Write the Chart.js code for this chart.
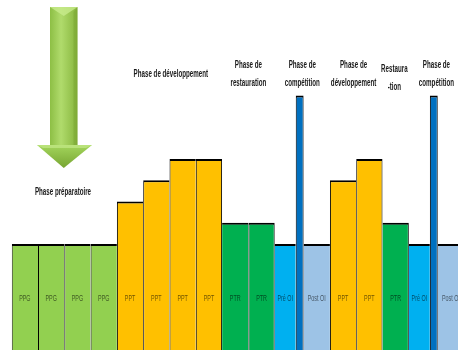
<!DOCTYPE html>
<html lang="fr">
<head>
<meta charset="utf-8">
<title>Périodisation de la saison</title>
<script src="https://cdn.jsdelivr.net/npm/chart.js@4.4.1/dist/chart.umd.min.js"></script>
<style>
  html, body { margin: 0; padding: 0; background: #ffffff; }
  #wrap { position: relative; width: 458px; height: 350px; }
</style>
</head>
<body>
<div id="wrap"><canvas id="plan"></canvas></div>
<script>
// Blocs d'entraînement, dans l'ordre de la saison
const blocks = ['PPG', 'PPG', 'PPG', 'PPG', 'PPT', 'PPT', 'PPT', 'PPT', 'PTR', 'PTR',
                'Pré OI', 'OI', 'Post OI', 'PPT', 'PPT', 'PTR', 'Pré OI', 'OI', 'Post OI'];
// Durée relative de chaque bloc
const durations = [1, 1, 1, 1, 1, 1, 1, 1, 1, 1, 0.8, 0.3, 1, 1, 1, 1, 0.8, 0.3, 1];
// Niveau de charge de chaque bloc
const loads = [5, 5, 5, 5, 7, 8, 9, 9, 6, 6, 5, 12, 5, 8, 9, 6, 5, 12, 5];

// Titres des phases : [lignes, centre sur l'axe du temps]
const phaseTitles = [
  { lines: ['Phase préparatoire'], at: 1.95, y: 192 },
  { lines: ['Phase de développement'], at: 6.05, y: 74 },
  { lines: ['Phase de', 'restauration'], at: 9.0, y: 65 },
  { lines: ['Phase de', 'compétition'], at: 11.05, y: 65 },
  { lines: ['Phase de', 'développement'], at: 13.0, y: 65 },
  { lines: ['Restaura', '-tion'], at: 14.55, y: 69 },
  { lines: ['Phase de', 'compétition'], at: 16.15, y: 65 }
];

const palette = {
  'PPG': '#92D050',
  'PPT': '#FFC000',
  'PTR': '#00B050',
  'Pré OI': '#00B0F0',
  'OI': '#0070C0',
  'Post OI': '#9DC3E6'
};

// Début de chaque bloc sur l'axe du temps
const starts = [];
durations.reduce((acc, d) => { starts.push(acc); return acc + d; }, 0);

const points = blocks.map((b, i) => ({ x: starts[i] + durations[i] / 2, y: loads[i] }));

// Bordures : le bloc le plus haut trace l'arête commune
function edges(ctx) {
  const i = ctx.dataIndex;
  const prev = i > 0 ? loads[i - 1] : -1;
  const next = i < loads.length - 1 ? loads[i + 1] : -1;
  return {
    top: 2,
    left: prev <= loads[i] ? 1 : 0,
    right: next < loads[i] ? 1 : 0,
    bottom: 0
  };
}

// Largeur de chaque barre = sa durée, convertie par l'échelle x
const widthFromDuration = {
  id: 'widthFromDuration',
  afterDatasetsUpdate(chart) {
    const xs = chart.scales.x;
    chart.getDatasetMeta(0).data.forEach((el, i) => {
      const a = xs.getPixelForValue(starts[i]);
      const b = xs.getPixelForValue(starts[i] + durations[i]);
      el.x = (a + b) / 2;
      el.width = b - a;
    });
  }
};

// Texte resserré horizontalement (police condensée)
function squashedText(ctx, text, x, y, sx) {
  ctx.save();
  ctx.translate(x, y);
  ctx.scale(sx, 1);
  ctx.fillText(text, 0, 0);
  ctx.restore();
}

// Libellés dans les barres
const blockLabels = {
  id: 'blockLabels',
  afterDatasetsDraw(chart) {
    const { ctx, chartArea } = chart;
    const ys = chart.scales.y;
    ctx.save();
    ctx.font = '9px "Liberation Sans", Arial, sans-serif';
    ctx.textAlign = 'center';
    ctx.textBaseline = 'middle';
    ctx.fillStyle = 'rgba(0,0,0,0.58)';
    ctx.beginPath();
    ctx.rect(chartArea.left, chartArea.top, chartArea.right - chartArea.left, chartArea.bottom - chartArea.top);
    ctx.clip();
    chart.getDatasetMeta(0).data.forEach((el, i) => {
      if (blocks[i] === 'OI') return;
      squashedText(ctx, blocks[i], el.x, ys.getPixelForValue(2.45), 0.6);
    });
    ctx.restore();
  }
};

// Titres des phases et flèche descendante
const annotations = {
  id: 'annotations',
  afterDraw(chart) {
    const { ctx } = chart;
    const xs = chart.scales.x;
    ctx.save();
    ctx.font = 'bold 10px "Liberation Sans", Arial, sans-serif';
    ctx.textAlign = 'center';
    ctx.textBaseline = 'middle';
    ctx.fillStyle = '#1a1a1a';
    phaseTitles.forEach(t => {
      const cx = xs.getPixelForValue(t.at);
      t.lines.forEach((ln, k) => squashedText(ctx, ln, cx, t.y + k * 18, 0.62));
    });

    // Flèche
    const sl = 50, sr = 77.5, st = 7, hb = 145, hl = 37, hr = 92, tipY = 168;
    const cx = (sl + sr) / 2;
    const g = ctx.createLinearGradient(sl, 0, sr, 0);
    g.addColorStop(0, '#8dbf45');
    g.addColorStop(0.4, '#b0db6c');
    g.addColorStop(1, '#86b53c');
    ctx.fillStyle = g;
    ctx.beginPath();
    ctx.rect(sl, st, sr - sl, hb - st + 1);
    ctx.fill();
    // biseau du haut
    ctx.fillStyle = 'rgba(200,235,140,0.8)';
    ctx.beginPath();
    ctx.moveTo(sl, st);
    ctx.lineTo(sr, st);
    ctx.lineTo(cx, st + 9);
    ctx.closePath();
    ctx.fill();
    ctx.fillStyle = 'rgba(110,150,40,0.3)';
    ctx.beginPath();
    ctx.moveTo(sr, st);
    ctx.lineTo(sr - 4, st + 5);
    ctx.lineTo(sr - 4, hb);
    ctx.lineTo(sr, hb);
    ctx.closePath();
    ctx.fill();
    // pointe
    const hg = ctx.createLinearGradient(0, hb, 0, tipY);
    hg.addColorStop(0, '#a3d55c');
    hg.addColorStop(1, '#77a532');
    ctx.fillStyle = hg;
    ctx.beginPath();
    ctx.moveTo(hl, hb);
    ctx.lineTo(hr, hb);
    ctx.lineTo(cx, tipY);
    ctx.closePath();
    ctx.fill();
    ctx.fillStyle = 'rgba(205,238,150,0.55)';
    ctx.beginPath();
    ctx.moveTo(hl, hb);
    ctx.lineTo(hr, hb);
    ctx.lineTo(hr - 6, hb + 3);
    ctx.lineTo(hl + 6, hb + 3);
    ctx.closePath();
    ctx.fill();
    ctx.restore();
  }
};

new Chart(document.getElementById('plan'), {
  type: 'bar',
  data: {
    datasets: [{
      label: 'Charge',
      data: points,
      backgroundColor: blocks.map(b => palette[b]),
      borderColor: '#000000',
      borderWidth: edges,
      borderSkipped: false,
      grouped: false
    }]
  },
  options: {
    responsive: true,
    maintainAspectRatio: false,
    animation: false,
    events: [],
    layout: { padding: { left: 11.7, right: 0, top: 0, bottom: 0 } },
    scales: {
      x: { type: 'linear', min: 0, max: 16.97, offset: false, display: false },
      y: { min: 0, max: 16.5, display: false }
    },
    plugins: {
      legend: { display: false },
      tooltip: { enabled: false }
    }
  },
  plugins: [widthFromDuration, blockLabels, annotations]
});
</script>
</body>
</html>
